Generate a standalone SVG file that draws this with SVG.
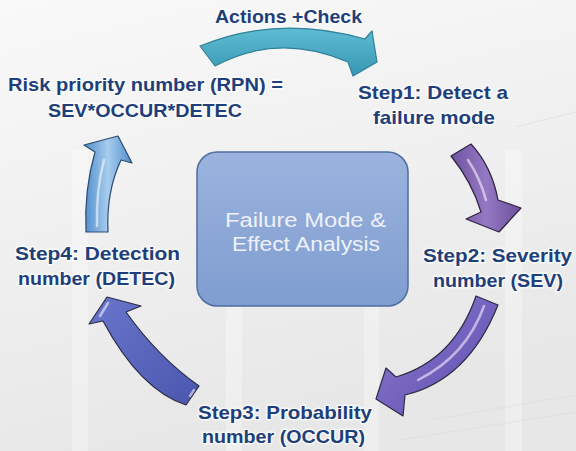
<svg xmlns="http://www.w3.org/2000/svg" width="576" height="451" viewBox="0 0 576 451">
  <defs>
    <linearGradient id="bg" x1="0" y1="0" x2="0.3" y2="1">
      <stop offset="0" stop-color="#f9f9f9"/>
      <stop offset="1" stop-color="#e7e7e7"/>
    </linearGradient>
    <linearGradient id="boxg" x1="0" y1="0" x2="0" y2="1">
      <stop offset="0" stop-color="#9bb3de"/>
      <stop offset="1" stop-color="#7f9dd0"/>
    </linearGradient>
    <linearGradient id="teal" x1="0" y1="0" x2="0" y2="1">
      <stop offset="0" stop-color="#5fbcd4"/>
      <stop offset="1" stop-color="#3796b2"/>
    </linearGradient>
    <linearGradient id="purple" x1="0" y1="0" x2="1" y2="0">
      <stop offset="0" stop-color="#6f54a0"/>
      <stop offset="0.5" stop-color="#9478c4"/>
      <stop offset="1" stop-color="#6c509c"/>
    </linearGradient>
    <linearGradient id="violet" x1="0" y1="0" x2="1" y2="1">
      <stop offset="0" stop-color="#8a7bd0"/>
      <stop offset="1" stop-color="#5e4dae"/>
    </linearGradient>
    <linearGradient id="indigo" x1="0" y1="0" x2="1" y2="1">
      <stop offset="0" stop-color="#6a76cc"/>
      <stop offset="1" stop-color="#4b56ae"/>
    </linearGradient>
    <linearGradient id="sky" x1="0" y1="0" x2="1" y2="0">
      <stop offset="0" stop-color="#4f8ccc"/>
      <stop offset="0.5" stop-color="#a8cdee"/>
      <stop offset="1" stop-color="#4f8ccc"/>
    </linearGradient>
    <style>
      .lbl { font-family: "Liberation Sans", Arial, sans-serif; font-weight: bold; font-size: 19px; fill: #1f3f7a; text-anchor: middle; stroke: #ffffff; stroke-width: 3; stroke-opacity: 0.7; paint-order: stroke; stroke-linejoin: round; }
      .boxt { font-family: "Liberation Sans", Arial, sans-serif; font-size: 20px; fill: #eef1f7; text-anchor: middle; }
      .arrow { stroke-width: 1.2; stroke-linejoin: round; }
      .hl { fill: none; stroke: #ffffff; stroke-opacity: 0.55; stroke-width: 2.5; stroke-linecap: round; }
    </style>
  </defs>

  <!-- background -->
  <rect x="0" y="0" width="576" height="451" fill="url(#bg)"/>
  <g fill="#ffffff" opacity="0.3">
    <rect x="72" y="150" width="16" height="301"/>
    <rect x="226" y="300" width="16" height="151"/>
    <rect x="364" y="300" width="15" height="151"/>
    <rect x="505" y="150" width="17" height="301"/>
  </g>
  <g fill="none" stroke="#dadada" stroke-width="1" opacity="0.5">
    <path d="M430,420 L576,395"/>
    <path d="M400,440 L576,412"/>
    <path d="M515,127 L576,112"/>
  </g>

  <!-- connectors -->
  <g id="connectors">
    <path id="arrow-top" class="arrow" fill="url(#teal)" stroke="#2f8199" d="M200,46 Q278,14 365,39 L372,31 L377,62 L353,76 L348,62 Q278,32 215,66 Z"/>
    <path id="arrow-step1-step2" class="arrow" fill="url(#purple)" stroke="#2e2440" d="M451,156 L471,144 Q492,167 498,200 L521,208 L499,232 L466,219 L481,212 Q472,182 451,156 Z"/>
    <path class="hl" d="M468,160 Q480,178 486,200"/>
    <path id="arrow-step2-step3" class="arrow" fill="url(#violet)" stroke="#2e2a44" d="M476,296 L498,305 Q468,380 405,395 L403,416 L376,399 L386,368 L396,377 Q454,360 476,296 Z"/>
    <path class="hl" d="M484,306 Q466,356 418,380"/>
    <path id="arrow-step3-step4" class="arrow" fill="url(#indigo)" stroke="#2a2d44" d="M199,386 L186,405 Q140,390 103,321 L89,324 L107,297 L141,306 L126,312 Q158,357 199,386 Z"/>
    <path class="hl" d="M108,303 L100,316"/>
    <path class="hl" d="M190,396 L194,390"/>
    <path id="arrow-step4-rpn" class="arrow" fill="url(#sky)" stroke="#2c4a70" d="M108,232 L86,232 Q84,190 95,152 L84,145 L118,136 L132,163 L121,160 Q106,192 108,232 Z"/>
    <path class="hl" d="M97,226 Q96,190 104,160"/>
  </g>

  <!-- central node -->
  <g id="node-fmea">
    <rect x="197" y="152" width="211" height="154" rx="20" ry="20" fill="url(#boxg)" stroke="#4f6d9f" stroke-width="1.5"/>
    <text class="boxt" x="305.5" y="227" textLength="161" lengthAdjust="spacingAndGlyphs">Failure Mode &amp;</text>
    <text class="boxt" x="306" y="251" textLength="148" lengthAdjust="spacingAndGlyphs">Effect Analysis</text>
  </g>

  <g id="node-actions">
    <text class="lbl" x="288.5" y="23" style="font-size:18px" textLength="147" lengthAdjust="spacingAndGlyphs">Actions +Check</text>
  </g>

  <g id="node-rpn">
    <text class="lbl" x="145.5" y="91" textLength="275" lengthAdjust="spacingAndGlyphs">Risk priority number (RPN) =</text>
    <text class="lbl" x="145" y="117" textLength="194" lengthAdjust="spacingAndGlyphs">SEV*OCCUR*DETEC</text>
  </g>

  <g id="node-step1">
    <text class="lbl" x="433" y="99" textLength="150" lengthAdjust="spacingAndGlyphs">Step1: Detect a</text>
    <text class="lbl" x="434" y="124" textLength="122" lengthAdjust="spacingAndGlyphs">failure mode</text>
  </g>

  <g id="node-step2">
    <text class="lbl" x="497.5" y="262" textLength="149" lengthAdjust="spacingAndGlyphs">Step2: Severity</text>
    <text class="lbl" x="498" y="287" textLength="130" lengthAdjust="spacingAndGlyphs">number (SEV)</text>
  </g>

  <g id="node-step3">
    <text class="lbl" x="285" y="419" textLength="174" lengthAdjust="spacingAndGlyphs">Step3: Probability</text>
    <text class="lbl" x="283.5" y="443" textLength="163" lengthAdjust="spacingAndGlyphs">number (OCCUR)</text>
  </g>

  <g id="node-step4">
    <text class="lbl" x="97.5" y="260" textLength="165" lengthAdjust="spacingAndGlyphs">Step4: Detection</text>
    <text class="lbl" x="96.5" y="285" textLength="157" lengthAdjust="spacingAndGlyphs">number (DETEC)</text>
  </g>
</svg>
